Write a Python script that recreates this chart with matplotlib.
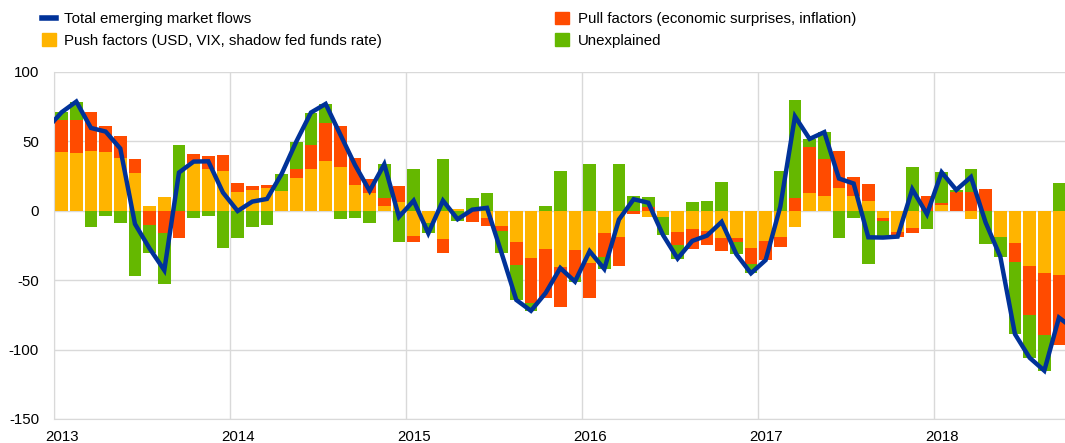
import numpy as np
import matplotlib.pyplot as plt
from matplotlib.patches import Patch
from matplotlib.lines import Line2D

plt.rcParams['font.family'] = ['Liberation Sans', 'DejaVu Sans']
plt.rcParams['axes.unicode_minus'] = False

# monthly data, Jan 2013 - Sep 2018
push = [42.5, 41.5, 43.0, 42.5, 37.7, 27.1, 3.4, 10.1, 0.0, 34.1, 29.8, 28.6,
        13.4, 14.9, 16.1, 14.4, 23.8, 30.0, 36.0, 31.5, 18.5, 12.5, 3.6, 6.0,
        -18.0, -9.0, -20.7, 1.2, 0.0, -5.5, -10.8, -22.3, -33.9, -27.4, -40.8, -28.3,
        -37.9, -16.3, -18.7, 0.0, -4.3, -4.8, -15.1, -13.2, -14.4, -19.9, -19.5, -27.1,
        -21.9, -18.7, -11.5, 13.0, 10.8, 16.1, 10.6, 7.0, -5.0, -15.6, -12.2, 0.0,
        3.8, 0.0, -6.0, 0.0, -18.7, -23.1, -39.9, -45.1, -46.3]
pull = [22.8, 23.8, 28.3, 18.5, 16.1, 10.1, -10.3, -16.3, -19.9, 6.7, 9.8, 11.5,
        6.2, 3.1, 2.4, 0.0, 6.0, 17.3, 26.9, 29.5, 19.7, 10.3, 5.3, 11.8,
        -4.8, 0.0, -9.6, 0.0, -8.2, -5.5, -3.8, -16.8, -32.4, -35.3, -28.8, -19.2,
        -24.7, -16.8, -21.1, -2.6, 2.5, 0.0, -9.6, -14.6, -10.6, -9.1, -3.4, -11.3,
        -13.7, -7.2, 8.9, 33.1, 26.7, 26.9, 13.9, 12.2, -2.4, -3.1, -3.6, 10.6,
        1.9, 13.2, 13.2, 15.4, 0.0, -13.7, -35.3, -44.4, -50.4]
unexplained = [5.5, 13.2, -11.8, -4.1, -9.1, -46.8, -20.4, -36.7, 47.3, -5.5, -4.1, -27.1,
               -19.9, -11.5, -10.1, 12.0, 19.9, 23.3, 13.9, -6.2, -5.3, -8.6, 24.5, -22.3,
               30.0, -7.3, 37.5, -7.4, 8.9, 13.0, -16.1, -25.2, -5.8, 3.4, 28.3, -3.6,
               33.4, -8.9, 33.4, 10.8, 7.5, -12.7, -9.8, 6.0, 7.0, 20.9, -8.4, -6.7,
               0.0, 28.8, 70.4, 5.5, 19.0, -19.9, -5.0, -38.4, -12.0, 0.0, 31.2, -13.2,
               21.9, 1.7, 17.0, -24.0, -14.4, -52.1, -30.7, -25.7, 19.7]
# total flows, Dec 2012 - Oct 2018 (first and last points fall outside the axis)
total = [59.0,
         70.8, 78.5, 59.5, 56.9, 44.7, -9.6, -27.3, -42.9, 27.4, 35.3, 35.5, 13.0,
         -0.3, 6.5, 8.4, 26.4, 49.7, 70.6, 76.8, 54.8, 32.9, 14.2, 33.4, -4.5,
         7.2, -16.3, 7.2, -6.2, 0.7, 2.0, -30.7, -64.3, -72.1, -59.3, -41.3, -51.1,
         -29.2, -42.0, -6.4, 8.2, 5.7, -17.5, -34.5, -21.8, -18.0, -8.1, -31.3, -45.1,
         -35.6, 2.9, 67.8, 51.6, 56.5, 23.1, 19.5, -19.2, -19.4, -18.7, 15.4, -2.6,
         27.6, 14.9, 24.2, -8.6, -33.1, -88.9, -105.9, -115.2, -77.0,
         -85.0]
years = ['2013', '2014', '2015', '2016', '2017', '2018']

c_push = '#FFB400'
c_pull = '#FF4B00'
c_unexp = '#65B800'
c_total = '#003299'

x = np.arange(len(push)) + 0.5
x_line = np.arange(len(total)) - 0.5

fig = plt.figure(figsize=(10.65, 4.43), dpi=100)
ax = fig.add_axes([54.3 / 1065, 24 / 443, 1012 / 1065, 347.3 / 443])

# positives stack upward, negatives downward, in the same order
pos_base = np.zeros(len(x))
neg_base = np.zeros(len(x))
for vals, col in [(push, c_push), (pull, c_pull), (unexplained, c_unexp)]:
    v = np.array(vals)
    base = np.where(v >= 0, pos_base, neg_base)
    ax.bar(x, v, width=0.88, bottom=base, color=col, linewidth=0, zorder=2)
    pos_base = pos_base + np.where(v > 0, v, 0)
    neg_base = neg_base + np.where(v < 0, v, 0)

ax.plot(x_line, total, color=c_total, lw=3.2, solid_joinstyle='miter', zorder=3)

ax.set_xlim(0, 69)
ax.set_ylim(-150, 100)
ax.set_yticks(np.arange(-150, 101, 50))
ax.set_xticks(np.arange(len(years)) * 12 + 0.5)
ax.set_xticklabels(years)
ax.set_xticks(np.arange(len(years)) * 12, minor=True)
ax.tick_params(axis='both', which='both', length=0, labelsize=10.8, colors='black')
ax.tick_params(axis='y', pad=11)
ax.tick_params(axis='x', pad=8)
ax.grid(axis='y', color='#d9d9d9', lw=1, zorder=0)
ax.grid(axis='x', which='minor', color='#d9d9d9', lw=1, zorder=0)
ax.grid(axis='x', which='major', visible=False)
for s in ['top', 'right']:
    ax.spines[s].set_visible(False)
for s in ['left', 'bottom']:
    ax.spines[s].set_color('#d9d9d9')
ax.set_axisbelow(True)

h1 = [Line2D([0], [0], color=c_total, lw=4),
      Patch(color=c_push)]
h2 = [Patch(color=c_pull), Patch(color=c_unexp)]
leg_kw = dict(frameon=False, fontsize=10.8, handlelength=0.9, handleheight=0.9,
              handletextpad=0.6, labelspacing=0.45, borderpad=0, borderaxespad=0,
              loc='upper left')
fig.legend(h1, ['Total emerging market flows',
                'Push factors (USD, VIX, shadow fed funds rate)'],
           bbox_to_anchor=(42 / 1065, 1 - 12 / 443), **leg_kw)
fig.legend(h2, ['Pull factors (economic surprises, inflation)', 'Unexplained'],
           bbox_to_anchor=(555 / 1065, 1 - 12 / 443), **leg_kw)

fig.savefig('out.png', dpi=100)
